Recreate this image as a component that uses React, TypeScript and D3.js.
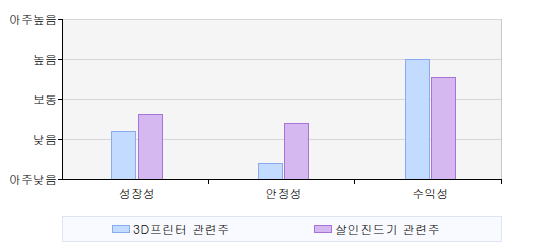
import React from "react";
import * as d3 from "d3";

const categories = ["성장성", "안정성", "수익성"];
const seriesNames = ["3D프린터 관련주", "살인진드기 관련주"];
const seriesA = [1.2, 0.4, 3.0];
const seriesB = [1.62, 1.4, 2.55];
const levelLabels = ["아주낮음", "낮음", "보통", "높음", "아주높음"];

const fills = ["#c2dbff", "#d4b8ef"];
const strokes = ["#88aaee", "#a673d6"];
const font = "Gulim, 'Noto Sans CJK KR', sans-serif";

export default function App() {
  const W = 544, H = 250;
  const left = 62, right = 502, top = 19, bottom = 179;
  const x0 = d3.scaleBand<string>().domain(categories).range([left, right]);
  const x1 = d3.scaleBand<number>().domain([0, 1]).range([0, 51]).paddingInner(0.06);
  const y = d3.scaleLinear().domain([0, 4]).range([bottom, top]);
  const series = [seriesA, seriesB];
  const bw = x0.bandwidth();
  const ticks = d3.range(0, 5);
  const boundaries = categories.map((c) => (x0(c) as number) + bw);

  return (
    <svg width={W} height={H} style={{ position: "absolute", left: 0, top: 0 }}>
      <rect x={left} y={top} width={right - left} height={bottom - top} fill="#f5f5f5" />
      {ticks.map((t) => (
        <line key={t} x1={left} x2={right} y1={y(t) + 0.5} y2={y(t) + 0.5} stroke="#d6d6d6" />
      ))}
      <line x1={right - 0.5} x2={right - 0.5} y1={top} y2={bottom} stroke="#c8c8c8" />
      {categories.map((c, i) => {
        const gx = (x0(c) as number) + (bw - 51) / 2 + 1.5;
        return series.map((s, j) => {
          const xs = gx + (x1(j) as number);
          const yt = y(s[i]);
          return (
            <rect
              key={c + j}
              x={Math.round(xs) + 0.5}
              y={Math.round(yt) + 0.5}
              width={Math.round(x1.bandwidth()) - 1}
              height={bottom - Math.round(yt)}
              fill={fills[j]}
              stroke={strokes[j]}
            />
          );
        });
      })}
      {/* axes */}
      <line x1={left + 0.5} x2={left + 0.5} y1={top} y2={bottom + 1} stroke="#000" />
      <line x1={left} x2={right} y1={bottom + 0.5} y2={bottom + 0.5} stroke="#000" />
      {ticks.map((t) => (
        <line key={"yt" + t} x1={left - 4} x2={left} y1={y(t) + 0.5} y2={y(t) + 0.5} stroke="#000" />
      ))}
      {boundaries.map((b, i) => (
        <line key={"xt" + i} x1={Math.round(b) - 0.5} x2={Math.round(b) - 0.5} y1={bottom} y2={bottom + 5} stroke="#000" />
      ))}
      {ticks.map((t) => (
        <text key={"yl" + t} x={57} y={y(t) + 4.5} textAnchor="end" fontSize={12} fontFamily={font} fill="#000">
          {levelLabels[t]}
        </text>
      ))}
      {categories.map((c) => (
        <text key={"xl" + c} x={(x0(c) as number) + bw / 2 + 1.5} y={198} textAnchor="middle" fontSize={12} fontFamily={font} fill="#000">
          {c}
        </text>
      ))}
      {/* legend */}
      <rect x={62.5} y={216.5} width={439} height={25} fill="#f8faff" stroke="#dce5f0" />
      {seriesNames.map((n, j) => {
        const lx = j === 0 ? 112 : 314;
        return (
          <g key={n}>
            <rect x={lx + 0.5} y={225.5} width={17} height={7} fill={fills[j]} stroke={strokes[j]} />
            <text x={lx + 21} y={234} fontSize={12} fontFamily={font} fill="#000" letterSpacing={0.6}>
              {n}
            </text>
          </g>
        );
      })}
    </svg>
  );
}
